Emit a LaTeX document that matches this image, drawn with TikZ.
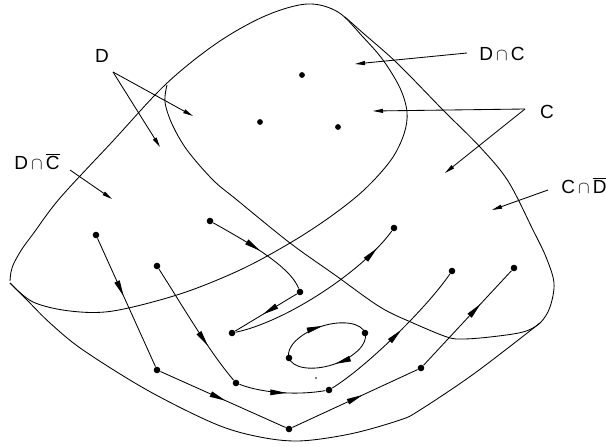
\documentclass[tikz,border=0pt]{standalone}
\usepackage{fontspec}
\setmainfont{Liberation Sans}
\usetikzlibrary{arrows.meta,decorations.markings,calc}

\begin{document}
\begin{tikzpicture}[x=1pt,y=-1pt,line width=0.85pt,
  dot/.style={circle,fill=black,inner sep=0pt,minimum size=6.6pt},
  sdot/.style={circle,fill=black,inner sep=0pt,minimum size=5.8pt},
  lab/.style={font=\fontsize{19}{21}\selectfont,inner sep=0pt,anchor=base},
  ptr/.style={-{Triangle[length=10pt,width=4pt]}},
  flowtip/.tip={Triangle[length=16pt,width=5.6pt]},
  flow/.style={postaction={decorate},decoration={markings,
    mark=at position #1 with {\arrow{flowtip}}}}]
\useasboundingbox (0,0) rectangle (606,447);
% the sheet: upper edge with region D, region C, lower edge
\draw plot[smooth,tension=0.55] coordinates {(10,281) (11,272) (14,263) (22,249) (33,234) (60,198)
  (112,142) (166,84) (217,43) (265,16) (307,4) (338,12) (363,37) (383,60) (400,88) (407,112)
  (404,134) (391,160) (364,190) (330,217) (290,243) (240,270) (180,294) (113,311) (70,311)
  (33,302) (10,283)};
\draw plot[smooth,tension=0.55] coordinates {(345,17) (363,33) (397,63) (443,110) (480,147)
  (508,181) (533,230) (546,257) (554,283) (550,307) (540,323) (523,332) (490,337) (463,339)
  (447,337) (413,323) (380,307) (335,275) (290,243) (237,200) (213,180) (187,150) (172,124)
  (165,102) (167,85)};
\draw plot[smooth,tension=0.55] coordinates {(10,283) (27,300) (50,323) (83,350) (147,390)
  (213,423) (255,436) (298,441) (350,434) (400,420) (420,410) (475,373) (540,323)};
% points of D n C
\foreach \n/\x/\y in {p1/302/75,p2/260/122,p3/338/127}
  \node[sdot] (\n) at (\x,\y) {};
% end points of the trajectories
\foreach \n/\x/\y in {a1/96/235,a2/157/370,a3/289/429,a4/421/368,a5/514/268,
  b1/157/266,b2/236/383,b3/329/390,b4/452/271,
  c1/210/221,c2/300/292,c3/232/333,c4/394/228,o1/289/358,o2/365/333}
  \node[dot] (\n) at (\x,\y) {};
\node[circle,fill=black,inner sep=0pt,minimum size=1.8pt] (fp) at (316,378) {};
% trajectories
\draw[flow=0.45] (a1) -- (a2);
\draw[flow=0.52] (a2) -- (a3);
\draw[flow=0.56] (a3) -- (a4);
\draw[flow=0.65] (a4) -- (a5);
\draw[flow=0.68] (b1) .. controls (182,305) and (208,350) .. (b2);
\draw[flow=0.55] (b2) .. controls (265,394) and (300,395) .. (b3);
\draw[flow=0.55] (b3) .. controls (365,368) and (425,310) .. (b4);
\draw[flow=0.5] (c1) .. controls (240,238) and (290,265) .. (c2);
\draw[flow=0.55] (c2) -- (c3);
\draw[flow=0.88] (c3) .. controls (285,322) and (362,272) .. (c4);
% closed orbit through o1, o2
\coordinate (orbc) at (327,345.5);
\draw[rotate around={18:(orbc)},postaction={decorate},decoration={markings,
    mark=at position 0.24 with {\arrow{flowtip}},
    mark=at position 0.76 with {\arrow{flowtip}}}]
  (orbc) ellipse [x radius=40,y radius=20];
% labels
\node[lab] (lD) at (102,63) {D};
\node[lab] (lDC) at (502,60) {D\,$\cap$\,C};
\node[lab] (lC) at (547,118) {C};
\node[lab] (lDnC) at (37,169) {D\,$\cap$\,$\overline{\mbox{C}}$};
\node[lab] (lCnD) at (584,193) {C\,$\cap$\,$\overline{\mbox{D}}$};
\coordinate (dApex) at (113,72);
\coordinate (cApex) at (525,109);
\draw[ptr] (dApex) -- (193,116) coordinate (dT1);
\draw[ptr] (dApex) -- (160,147) coordinate (dT2);
\draw[ptr] (70,170) coordinate (dnS) -- (112,199) coordinate (dnT);
\draw[ptr] (467,53) coordinate (dcS) -- (355,64) coordinate (dcT);
\draw[ptr] (cApex) -- (373,111) coordinate (cT1);
\draw[ptr] (cApex) -- (445,173) coordinate (cT2);
\draw[ptr] (548,190) coordinate (cnS) -- (492,210) coordinate (cnT);
\end{tikzpicture}
\end{document}
